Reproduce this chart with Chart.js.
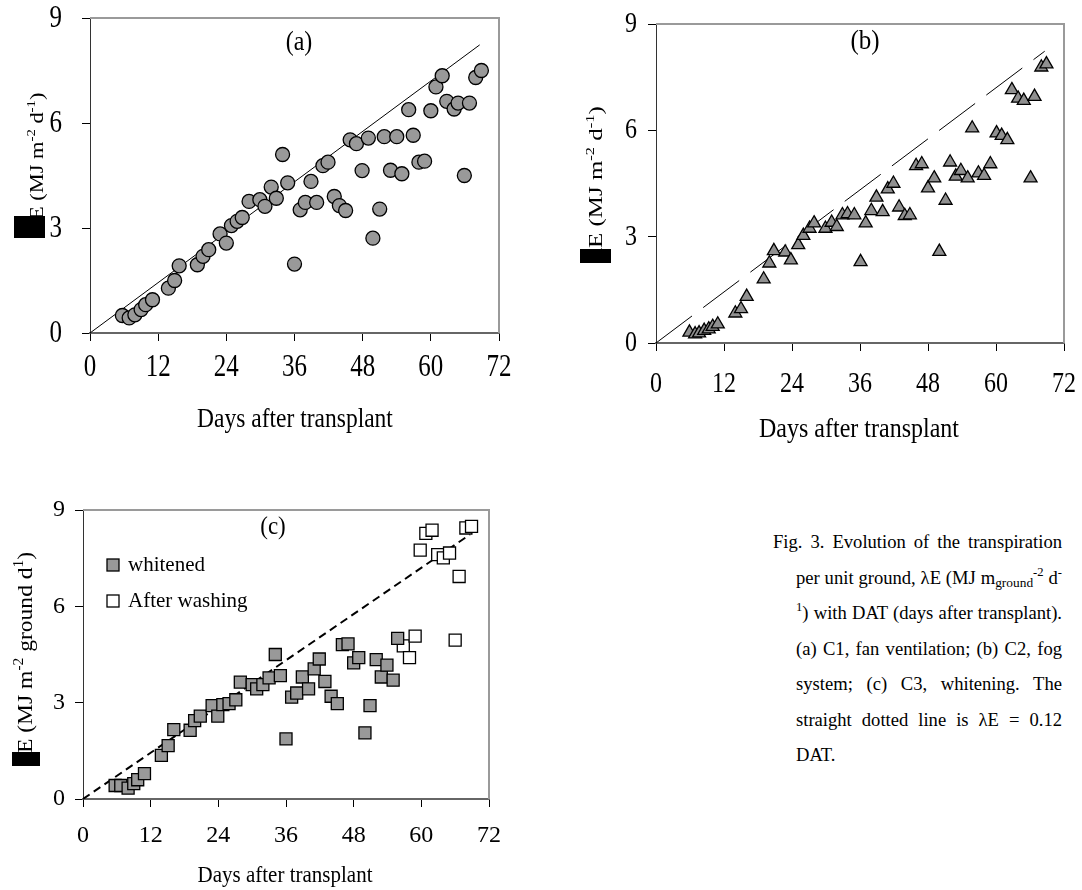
<!DOCTYPE html>
<html>
<head>
<meta charset="utf-8">
<script src="https://cdn.jsdelivr.net/npm/chart.js@4.4.1/dist/chart.umd.min.js"></script>
<style>
    body{margin:0;background:#fff;width:1082px;height:890px;position:relative;overflow:hidden;font-family:"Liberation Serif","Times New Roman",serif;}
    canvas{position:absolute;}
    #caption{position:absolute;left:773px;top:524px;width:289px;font-size:18.6px;line-height:35.5px;color:#000;}
    #caption div{text-align:justify;text-align-last:justify;}
    #caption div.in{padding-left:23px;}
    #caption div.last{text-align-last:left;}
    #caption sup{font-size:0.68em;line-height:0;vertical-align:0.6em;}
    #caption sub{font-size:0.72em;line-height:0;vertical-align:-0.25em;}
</style>
</head>
<body>
<canvas id="graphA" width="540" height="440" style="left:0;top:0"></canvas>
<canvas id="graphB" width="522" height="450" style="left:560px;top:0"></canvas>
<canvas id="graphC" width="520" height="410" style="left:0;top:480px"></canvas>
<div id="caption">
    <div>Fig. 3. Evolution of the transpiration</div>
    <div class="in">per unit ground, λE (MJ m<sub>ground</sub><sup>-2</sup> d<sup>-</sup></div>
    <div class="in"><sup>1</sup>) with DAT (days after transplant).</div>
    <div class="in">(a) C1, fan ventilation; (b) C2, fog</div>
    <div class="in">system; (c) C3, whitening. The</div>
    <div class="in">straight dotted line is λE = 0.12</div>
    <div class="in last">DAT.</div>
</div>
<script>
// axis ticks and the reference line lambdaE = 0.12 DAT
const xTicks = [0, 12, 24, 36, 48, 60, 72];
const yTicks = [0, 3, 6, 9];
const lineSlope = 0.12;
const lineDays = [0, 68.6];

// (a) C1, fan ventilation
const daysA = [5.7, 6.9, 7.9, 9.0, 9.8, 11.0, 13.8, 14.9, 15.7, 18.9, 19.9, 20.9, 22.9, 24.0, 24.9, 25.9, 26.8, 28.0, 29.9, 30.8,
    31.9, 32.8, 33.9, 34.8, 36.0, 37.0, 37.9, 38.9, 39.9, 41.0, 41.9, 43.0, 43.9, 45.0, 45.8, 46.9, 47.9, 49.0, 49.8, 51.0,
    51.8, 52.9, 54.0, 54.9, 56.1, 56.9, 57.9, 58.9, 60.0, 60.9, 62.0, 62.8, 64.1, 64.8, 65.9, 66.8, 67.9, 68.9];
const etA = [0.50, 0.43, 0.52, 0.67, 0.81, 0.95, 1.28, 1.50, 1.92, 1.95, 2.19, 2.38, 2.83, 2.57, 3.07, 3.19, 3.30, 3.76, 3.81, 3.62,
    4.17, 3.85, 5.10, 4.29, 1.97, 3.52, 3.73, 4.33, 3.73, 4.78, 4.88, 3.90, 3.64, 3.50, 5.52, 5.41, 4.64, 5.57, 2.71, 3.54,
    5.61, 4.65, 5.61, 4.55, 6.38, 5.65, 4.88, 4.91, 6.35, 7.03, 7.35, 6.62, 6.40, 6.57, 4.50, 6.57, 7.30, 7.50];

// (b) C2, fog system
const daysB = [5.9, 6.9, 7.6, 8.5, 9.3, 10.0, 10.9, 14.0, 15.0, 16.0, 19.0, 20.0, 20.8, 22.8, 23.8, 25.1, 26.0, 27.1, 27.9, 29.9,
    31.0, 31.9, 32.9, 33.8, 35.0, 36.1, 37.0, 38.0, 38.9, 40.0, 40.9, 41.9, 42.9, 43.9, 44.8, 45.9, 46.9, 48.0, 49.1, 50.0,
    51.1, 51.9, 52.9, 53.8, 55.0, 55.8, 56.9, 57.9, 59.0, 60.1, 61.0, 62.0, 62.8, 63.9, 64.9, 66.1, 66.8, 68.0, 68.9];
const etB = [0.30, 0.25, 0.28, 0.35, 0.39, 0.46, 0.53, 0.84, 0.96, 1.31, 1.80, 2.25, 2.60, 2.56, 2.34, 2.77, 3.03, 3.23, 3.38, 3.23,
    3.40, 3.28, 3.61, 3.64, 3.61, 2.29, 3.38, 3.73, 4.11, 3.70, 4.34, 4.50, 3.83, 3.59, 3.61, 5.00, 5.05, 4.37, 4.65, 2.58,
    4.02, 5.10, 4.70, 4.86, 4.65, 6.06, 4.79, 4.72, 5.05, 5.92, 5.85, 5.73, 7.14, 6.90, 6.84, 4.65, 6.95, 7.78, 7.87];

// (c) C3, whitening
const daysCw = [5.7, 6.7, 8.0, 9.0, 9.7, 10.9, 13.9, 15.1, 16.1, 19.0, 19.8, 20.8, 22.9, 23.9, 24.8, 25.9, 27.1, 27.9, 30.0, 30.8,
    31.9, 33.0, 34.1, 35.0, 36.0, 37.0, 37.9, 38.9, 40.0, 41.0, 41.9, 42.9, 44.0, 45.1, 46.0, 47.0, 48.0, 48.9, 50.0, 50.9,
    52.0, 52.9, 53.9, 55.0, 55.8];
const etCw = [0.42, 0.42, 0.34, 0.48, 0.60, 0.79, 1.36, 1.66, 2.16, 2.14, 2.44, 2.58, 2.91, 2.58, 2.94, 2.97, 3.09, 3.64, 3.56, 3.43,
    3.56, 3.77, 4.50, 3.84, 1.87, 3.17, 3.30, 3.80, 3.43, 4.05, 4.36, 3.66, 3.20, 2.97, 4.81, 4.83, 4.24, 4.40, 2.06, 2.91,
    4.34, 3.80, 4.17, 3.70, 5.00];
const daysCa = [56.8, 57.9, 58.9, 59.8, 60.8, 61.9, 62.9, 63.9, 65.0, 66.0, 66.7, 67.9, 68.9];
const etCa = [4.77, 4.40, 5.07, 7.75, 8.27, 8.37, 7.61, 7.51, 7.66, 4.95, 6.93, 8.44, 8.49];

const serif = '"Liberation Serif", "Times New Roman", serif';


function toPoints(days, values){
    return days.map((d, i) => ({x: d, y: values[i]}));
};


function linePoints(){
    return lineDays.map((d) => ({x: d, y: lineSlope * d}));
};


// the printed figure has its text a little stretched vertically
function stretchText(ctx, text, x, y, sy){
    ctx.save();
    ctx.translate(x, y);
    ctx.scale(1, sy);
    ctx.fillText(text, 0, 0);
    ctx.restore();
};


function drawTickLabels(chart, t){
    const ctx = chart.ctx;
    const xs = chart.scales.x;
    const ys = chart.scales.y;
    ctx.save();
    ctx.fillStyle = '#000';
    ctx.font = `${t.size}px ${serif}`;
    ctx.textBaseline = 'middle';
    ctx.textAlign = 'center';
    for(let i = 0; i < xTicks.length; i++){
        stretchText(ctx, String(xTicks[i]), xs.getPixelForValue(xTicks[i]), t.xLabelY, t.sy);
    };
    ctx.textAlign = 'right';
    for(let i = 0; i < yTicks.length; i++){
        stretchText(ctx, String(yTicks[i]), t.yLabelX, ys.getPixelForValue(yTicks[i]), t.sy);
    };
    ctx.restore();
};


function drawYTitle(ctx, t){
    ctx.save();
    ctx.fillStyle = '#000';
    ctx.fillRect(t.box[0], t.box[1], t.box[2], t.box[3]);
    ctx.translate(t.x, t.y);
    ctx.rotate(-Math.PI / 2);
    ctx.scale(t.sx, 1);
    ctx.textBaseline = 'alphabetic';
    ctx.textAlign = 'left';
    ctx.font = `${t.size}px ${serif}`;
    // lambda sits under the black block, as in the printed figure
    ctx.fillText('λ', -ctx.measureText('λ').width, 0);
    let pos = 0;
    for(let i = 0; i < t.parts.length; i++){
        let part = t.parts[i];
        let size = part.sup ? t.size * 0.66 : t.size;
        ctx.font = `${size}px ${serif}`;
        ctx.fillText(part.text, pos, part.sup ? -t.size * 0.4 : 0);
        pos += ctx.measureText(part.text).width;
    };
    ctx.restore();
};


function makeDecor(cfg){
    return {
        id: 'decor',
        beforeDatasetsDraw(chart){
            const a = chart.chartArea;
            const ctx = chart.ctx;
            ctx.save();
            ctx.strokeStyle = '#9a9a9a';
            ctx.lineWidth = 2;
            ctx.beginPath();
            ctx.moveTo(a.left, a.top);
            ctx.lineTo(a.right, a.top);
            ctx.lineTo(a.right, a.bottom);
            ctx.stroke();
            ctx.restore();
        },
        afterDraw(chart){
            const ctx = chart.ctx;
            drawTickLabels(chart, cfg.tick);

            ctx.save();
            ctx.fillStyle = '#000';
            ctx.textAlign = 'center';
            ctx.textBaseline = 'middle';

            ctx.font = `${cfg.panel.size}px ${serif}`;
            stretchText(ctx, cfg.panel.text, cfg.panel.x, cfg.panel.y, 1.1);

            ctx.font = `${cfg.xTitle.size}px ${serif}`;
            stretchText(ctx, 'Days after transplant', cfg.xTitle.x, cfg.xTitle.y, cfg.xTitle.sy);

            if(cfg.legend){
                const items = cfg.legend.items;
                ctx.textAlign = 'left';
                ctx.font = `${cfg.legend.size}px ${serif}`;
                for(let i = 0; i < items.length; i++){
                    let it = items[i];
                    ctx.fillStyle = it.fill;
                    ctx.strokeStyle = '#000';
                    ctx.lineWidth = 1.3;
                    ctx.fillRect(cfg.legend.x - 6, it.y - 6, 12, 12);
                    ctx.strokeRect(cfg.legend.x - 6, it.y - 6, 12, 12);
                    ctx.fillStyle = '#000';
                    ctx.fillText(it.text, cfg.legend.x + 15, it.y);
                };
            };
            ctx.restore();

            drawYTitle(ctx, cfg.yTitle);
        }
    };
};


function buildPanel(canvasId, datasets, cfg){

    const canvas = document.getElementById(canvasId).getContext('2d');
    return new Chart(canvas, {
        type: 'scatter',
        data: {
            datasets: datasets
        },
        options: {
            responsive: false,
            devicePixelRatio: 1,
            animation: false,
            events: [],
            layout: {
                padding: {
                    left: 0,
                    right: cfg.padRight,
                    top: cfg.padTop,
                    bottom: 0
                }
            },
            scales: {
                x: {
                    type: 'linear',
                    min: 0,
                    max: 72,
                    afterBuildTicks: (s) => { s.ticks = xTicks.map((v) => ({value: v})); },
                    afterFit: (s) => { s.height = cfg.xHeight; },
                    ticks: {display: false},
                    grid: {
                        drawOnChartArea: false,
                        tickLength: 8,
                        color: '#000'
                    },
                    border: {
                        color: '#666',
                        width: 2
                    }
                },
                y: {
                    type: 'linear',
                    min: 0,
                    max: 9,
                    afterBuildTicks: (s) => { s.ticks = yTicks.map((v) => ({value: v})); },
                    afterFit: (s) => { s.width = cfg.yWidth; },
                    ticks: {display: false},
                    grid: {
                        drawOnChartArea: false,
                        tickLength: 8,
                        color: '#000'
                    },
                    border: {
                        color: '#333',
                        width: 1
                    }
                }
            },
            plugins: {
                legend: {display: false},
                tooltip: {enabled: false}
            }
        },
        plugins: [makeDecor(cfg)]
    });
};


window.addEventListener("load", function(){

    const titleParts = [
        {text: 'E (MJ m'}, {text: '-2', sup: true}, {text: ' d'}, {text: '-1', sup: true}, {text: ')'}
    ];
    const titlePartsC = [
        {text: 'E (MJ m'}, {text: '-2', sup: true}, {text: ' ground d'}, {text: '1', sup: true}, {text: ')'}
    ];

    buildPanel('graphA', [
        {
            data: toPoints(daysA, etA),
            pointStyle: 'circle',
            pointRadius: 7,
            backgroundColor: '#999999',
            borderColor: '#000',
            borderWidth: 1.3
        },
        {
            data: linePoints(),
            showLine: true,
            borderColor: '#000',
            borderWidth: 1,
            pointRadius: 0
        }
    ], {
        padTop: 18, padRight: 41, xHeight: 107, yWidth: 90,
        tick: {size: 25, sy: 1.3, xLabelY: 367, yLabelX: 62},
        panel: {text: '(a)', x: 299, y: 43, size: 24},
        xTitle: {x: 295, y: 420, size: 23.5, sy: 1.15},
        yTitle: {x: 43, y: 220, size: 19.5, sx: 1.15, box: [14, 216, 31, 22], parts: titleParts}
    });

    buildPanel('graphB', [
        {
            data: toPoints(daysB, etB),
            pointStyle: 'triangle',
            pointRadius: 7.5,
            backgroundColor: '#909090',
            borderColor: '#000',
            borderWidth: 1.3
        },
        {
            data: linePoints(),
            showLine: true,
            borderColor: '#000',
            borderWidth: 1,
            borderDash: [45, 14],
            pointRadius: 0
        }
    ], {
        padTop: 24, padRight: 18, xHeight: 107, yWidth: 96,
        tick: {size: 24, sy: 1.25, xLabelY: 384, yLabelX: 77},
        panel: {text: '(b)', x: 305, y: 42, size: 25},
        xTitle: {x: 299, y: 430, size: 24, sy: 1.15},
        yTitle: {x: 42, y: 248, size: 19.5, sx: 1.28, box: [20, 249, 31, 14], parts: titleParts}
    });

    buildPanel('graphC', [
        {
            data: toPoints(daysCw, etCw),
            pointStyle: 'rect',
            pointRadius: 8.5,
            backgroundColor: '#999999',
            borderColor: '#000',
            borderWidth: 1.3
        },
        {
            data: toPoints(daysCa, etCa),
            pointStyle: 'rect',
            pointRadius: 8.5,
            backgroundColor: '#ffffff',
            borderColor: '#000',
            borderWidth: 1.3
        },
        {
            data: linePoints(),
            showLine: true,
            borderColor: '#000',
            borderWidth: 2,
            borderDash: [8, 5],
            pointRadius: 0
        }
    ], {
        padTop: 30, padRight: 31, xHeight: 91, yWidth: 83,
        tick: {size: 24, sy: 1.0, xLabelY: 356, yLabelX: 65},
        panel: {text: '(c)', x: 273, y: 47, size: 23},
        xTitle: {x: 285, y: 396, size: 21, sy: 1.05},
        yTitle: {x: 32, y: 273, size: 22, sx: 1.07, box: [12, 272, 28, 14], parts: titlePartsC},
        legend: {
            x: 113, size: 21,
            items: [
                {text: 'whitened', y: 85, fill: '#999999'},
                {text: 'After washing', y: 121, fill: '#ffffff'}
            ]
        }
    });
});
</script>
</body>
</html>
